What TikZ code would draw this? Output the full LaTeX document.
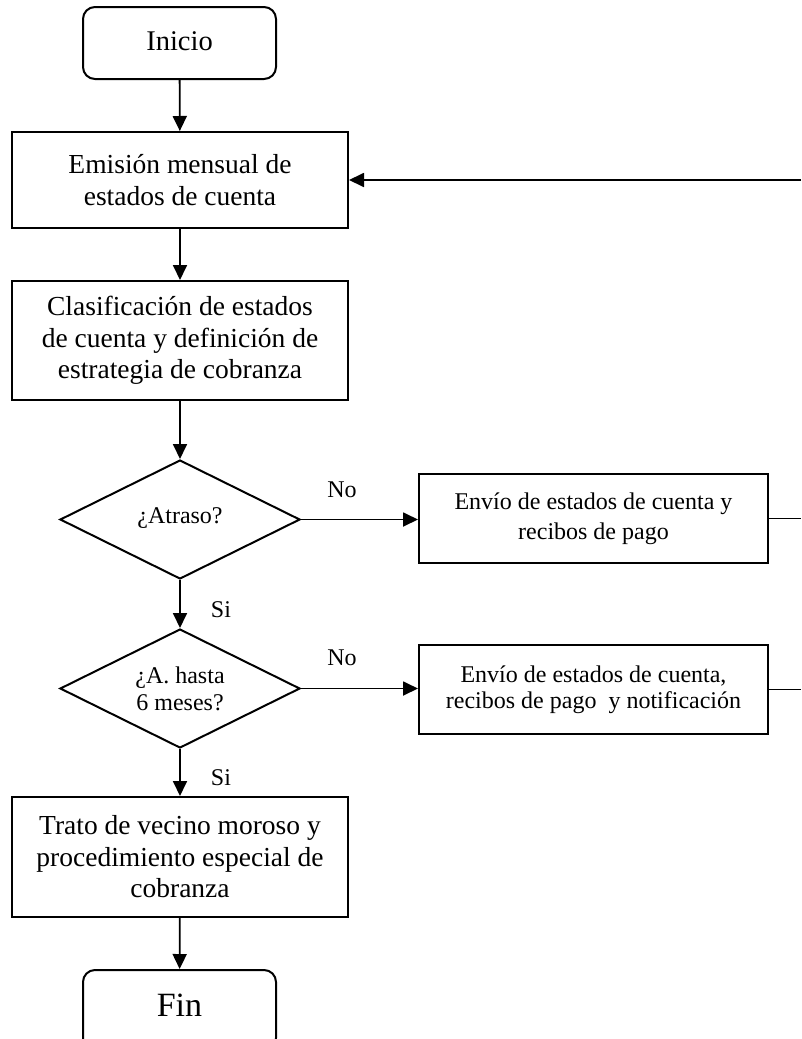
\documentclass[tikz,border=0pt]{standalone}
\usepackage{fontspec}
\setmainfont{Liberation Serif}
\usetikzlibrary{arrows.meta,shapes.geometric}
\begin{document}
\begin{tikzpicture}[x=1pt,y=-1pt,
  line width=1.8pt,
  bigbox/.style={draw,line width=2pt,minimum width=336pt,align=center,inner sep=0pt,
    font=\fontsize{27.5}{31.5}\selectfont},
  smallbox/.style={draw,line width=2pt,minimum width=349pt,align=center,inner sep=0pt,
    font=\fontsize{24}{30}\selectfont},
  term/.style={draw,line width=2pt,rounded corners=12pt,minimum width=193pt,minimum height=72pt,
    inner sep=0pt,font=\fontsize{28.5}{32}\selectfont},
  decision/.style={draw,diamond,aspect=2,line width=2pt,minimum width=240pt,minimum height=119pt,
    inner sep=0pt,align=center,font=\fontsize{24}{27}\selectfont},
  lbl/.style={font=\fontsize{24}{26}\selectfont,inner sep=0pt},
  arr/.style={-{Triangle[length=15pt,width=14pt]},line width=1.8pt}]
\useasboundingbox (0,0) rectangle (801,1039);
\fill[white] (0,0) rectangle (801,1039);

\node[term] (ini) at (179.5,43) {\raisebox{4pt}{Inicio}};
\node[bigbox,minimum height=96pt] (emis) at (180,180) {Emisión mensual de\\estados de cuenta};
\node[bigbox,minimum height=119pt] (clas) at (180,340.5) {Clasificación de estados\\de cuenta y definición de\\estrategia de cobranza};
\node[decision] (d1) at (180,519.5) {\raisebox{8pt}{¿Atraso?}};
\node[decision] (d2) at (180,688.5) {¿A. hasta\\6 meses?};
\node[smallbox,minimum height=89pt] (e1) at (593.5,518.5) {\raisebox{5pt}{\parbox{340pt}{\centering Envío de estados de cuenta y\\recibos de pago}}};
\node[smallbox,minimum height=89pt,font=\fontsize{24}{25.5}\selectfont] (e2) at (593.5,689.5) {Envío de estados de cuenta,\\recibos de pago\ \ y notificación};
\node[bigbox,minimum height=120pt] (trat) at (180,857) {Trato de vecino moroso y\\procedimiento especial de\\cobranza};
\node[term,minimum height=80pt,font=\fontsize{34}{38}\selectfont] (fin) at (179.5,1010) {\raisebox{10pt}{Fin}};

\coordinate (r0) at (801,180);
\coordinate (r1) at (801,518.5);
\coordinate (r2) at (801,689.5);

\draw[arr] (ini) -- (emis);
\draw[arr] (emis) -- (clas);
\draw[arr] (clas) -- (d1);
\draw[arr] (d1) -- (d2);
\draw[arr] (d2) -- (trat);
\draw[arr] (trat) -- (fin);
\draw[arr] (d1.east) -- (e1.west |- d1.east);
\draw[arr] (d2.east) -- (e2.west |- d2.east);
\draw (e1.east) -- (r1);
\draw (e2.east) -- (r2);
\draw[arr] (r0) -- (emis.east);

\node[lbl] (si1) at (221,610) {Si};
\node[lbl] (si2) at (221,778) {Si};
\node[lbl] (no1) at (342,490) {No};
\node[lbl] (no2) at (342,658) {No};
\end{tikzpicture}
\end{document}
